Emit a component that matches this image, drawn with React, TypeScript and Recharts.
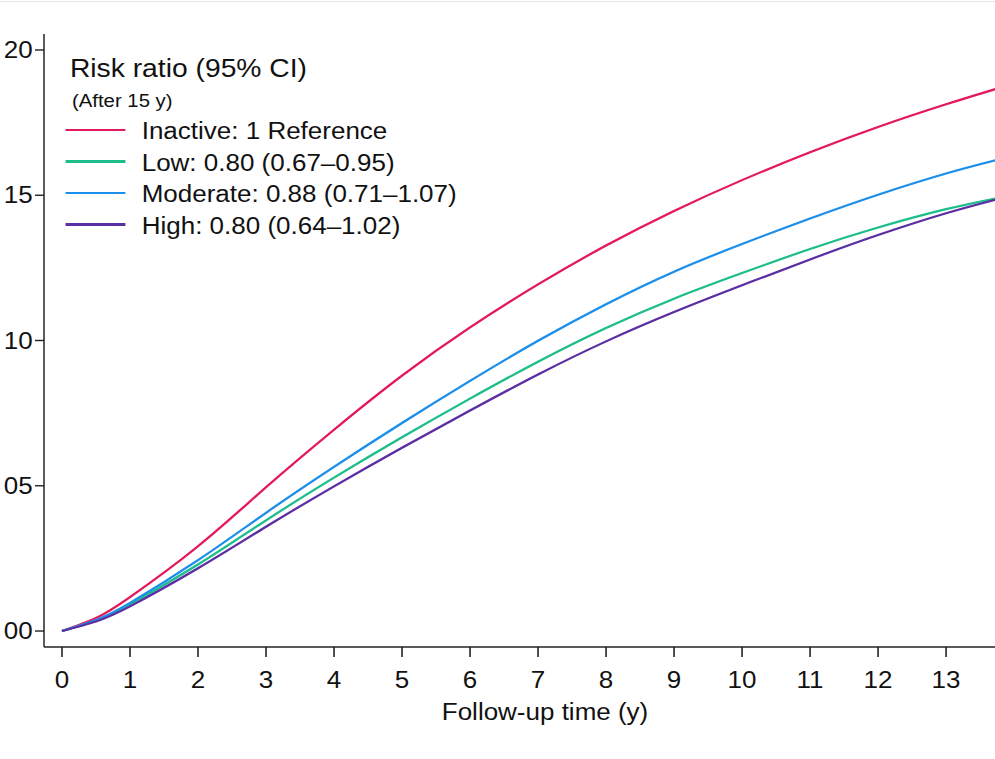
import React from 'react';
import { LineChart, Line, XAxis, YAxis, Legend } from 'recharts';

// ---- data ----
const years = [0, 0.5, 1, 2, 3, 4, 5, 6, 7, 8, 9, 10, 11, 12, 13, 13.75];
const inactive = [0, 0.0045, 0.0117, 0.0292, 0.0495, 0.0693, 0.0879, 0.1045, 0.1193, 0.1327, 0.1446, 0.1552, 0.1648, 0.1735, 0.1813, 0.1867];
const low = [0, 0.0036, 0.0092, 0.0229, 0.0381, 0.0528, 0.0667, 0.08, 0.0927, 0.1043, 0.1144, 0.1232, 0.1315, 0.1389, 0.1452, 0.149];
const moderate = [0, 0.0038, 0.0097, 0.0244, 0.0407, 0.0565, 0.0716, 0.0861, 0.0999, 0.1125, 0.1237, 0.1332, 0.142, 0.1502, 0.1575, 0.1622];
const high = [0, 0.0033, 0.0085, 0.0216, 0.0359, 0.0498, 0.0631, 0.0759, 0.0883, 0.0997, 0.1098, 0.119, 0.1279, 0.1363, 0.1438, 0.1486];

const seriesNames = [
  'Inactive: 1 Reference',
  'Low: 0.80 (0.67\u20130.95)',
  'Moderate: 0.88 (0.71\u20131.07)',
  'High: 0.80 (0.64\u20131.02)',
];
const seriesColors = ['#E3195A', '#1DBD8C', '#1C8FEB', '#5B2EA3'];
const legendTitle = 'Risk ratio (95% CI)';
const legendSubtitle = '(After 15 y)';
const xTicks = [0, 1, 2, 3, 4, 5, 6, 7, 8, 9, 10, 11, 12, 13];
const yTicks = [0, 0.05, 0.1, 0.15, 0.2];
const yTickLabels = ['00', '05', '10', '15', '20'];
const xLabel = 'Follow-up time (y)';

const data = years.map((y, i) => ({
  year: y,
  inactive: inactive[i],
  low: low[i],
  moderate: moderate[i],
  high: high[i],
}));

const S = 1.13; // horizontal stretch of the reference picture
const FONT = "'Liberation Sans', Arial, Helvetica, sans-serif";
const CHART_W = 930;
const CHART_H = 759;

const renderLegend = (props: any) => {
  const payload = [...(props.payload || [])].sort(
    (a: any, b: any) => seriesNames.indexOf(a.value) - seriesNames.indexOf(b.value)
  );
  return (
    <div style={{ position: 'relative', width: 420, height: 250, fontFamily: FONT, color: '#111' }}>
      <div style={{ position: 'absolute', left: 61.9, top: 53, fontSize: 25, lineHeight: '30px', whiteSpace: 'nowrap' }}>
        {legendTitle}
      </div>
      <div style={{ position: 'absolute', left: 63.7, top: 88.5, fontSize: 18, lineHeight: '24px', whiteSpace: 'nowrap' }}>
        {legendSubtitle}
      </div>
      {payload.map((entry: any, i: number) => (
        <div key={i} style={{ position: 'absolute', left: 0, top: 116.3 + i * 31.5, width: 420, height: 31.5 }}>
          <div style={{ position: 'absolute', left: 57.5, top: 12.7, width: 53.1, height: 2.2, background: entry.color }} />
          <div style={{ position: 'absolute', left: 125.4, top: 0, fontSize: 23, lineHeight: '31.5px', whiteSpace: 'nowrap' }}>
            {entry.value}
          </div>
        </div>
      ))}
    </div>
  );
};

export default function App() {
  const keys = ['inactive', 'low', 'moderate', 'high'];
  return (
    <div style={{ position: 'absolute', left: 0, top: 0, width: 995, height: 759, overflow: 'hidden', background: '#fff' }}>
      <div style={{ position: 'absolute', left: 0, top: 1, width: 995, height: 1, background: '#e6e6e6' }} />
      <div style={{ position: 'absolute', left: 0, top: 0, width: CHART_W, height: CHART_H, transform: `scaleX(${S})`, transformOrigin: '0 0' }}>
        <LineChart width={CHART_W} height={CHART_H} data={data} margin={{ top: 34, right: 4.3, left: 0, bottom: 0 }}>
          <XAxis
            dataKey="year"
            type="number"
            domain={[-0.2647, 14.47]}
            ticks={xTicks}
            interval={0}
            height={112}
            tickSize={10}
            tickMargin={15}
            stroke="#222"
            axisLine={{ stroke: '#222', strokeWidth: 1.4 }}
            tickLine={{ stroke: '#222', strokeWidth: 1.4 }}
            tick={{ fontSize: 23, fill: '#111', fontFamily: FONT }}
            label={{ value: xLabel, position: 'insideBottom', offset: 39, fontSize: 23, fill: '#111', fontFamily: FONT }}
          />
          <YAxis
            type="number"
            domain={[-0.0055, 0.2055]}
            ticks={yTicks}
            interval={0}
            width={38.94}
            tickSize={8}
            tickMargin={2}
            stroke="#222"
            axisLine={{ stroke: '#222', strokeWidth: 1.3 }}
            tickLine={{ stroke: '#222', strokeWidth: 1.4 }}
            tick={{ fontSize: 23, fill: '#111', fontFamily: FONT }}
            tickFormatter={(v: number) => {
              const idx = yTicks.findIndex((t) => Math.abs(t - v) < 1e-9);
              return idx >= 0 ? yTickLabels[idx] : '';
            }}
          />
          <Legend
            layout="horizontal"
            verticalAlign="middle"
            align="center"
            wrapperStyle={{ left: 0, top: 0, width: 420, height: 250 }}
            content={renderLegend}
          />
          {keys.map((k, i) => (
            <Line
              key={k}
              type="natural"
              dataKey={k}
              name={seriesNames[i]}
              stroke={seriesColors[i]}
              strokeWidth={2.2}
              dot={false}
              activeDot={false}
              isAnimationActive={false}
            />
          ))}
        </LineChart>
      </div>
    </div>
  );
}
